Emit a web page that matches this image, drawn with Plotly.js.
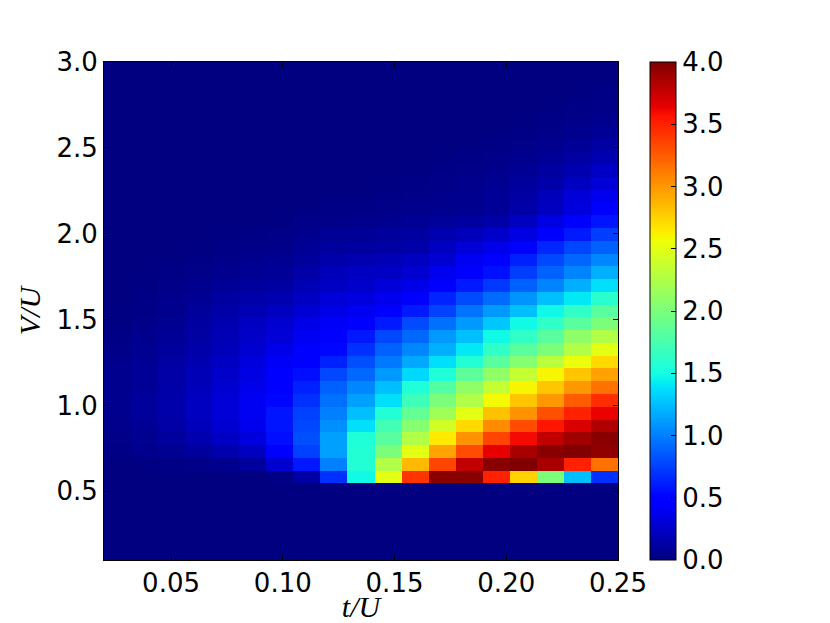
<!DOCTYPE html>
<html>
<head>
<meta charset="utf-8">
<script src="https://cdn.plot.ly/plotly-3.0.1.min.js"></script>
<style>html,body{margin:0;padding:0;background:#fff;}</style>
</head>
<body>
<div id="chart" style="width:830px;height:623px;"></div>
<script>
// cell edges along t/U (19 columns)
const tEdges = [0.02, 0.03211, 0.04421, 0.05632, 0.06842, 0.08053, 0.09263, 0.10474, 0.11684, 0.12895,
  0.14105, 0.15316, 0.16526, 0.17737, 0.18947, 0.20158, 0.21368, 0.22579, 0.23789, 0.25];
// cell edges along V/U (39 rows)
const vEdges = [0.1, 0.17436, 0.24872, 0.32308, 0.39744, 0.47179, 0.54615, 0.62051, 0.69487, 0.76923,
  0.84359, 0.91795, 0.99231, 1.06667, 1.14103, 1.21538, 1.28974, 1.36410, 1.43846, 1.51282,
  1.58718, 1.66154, 1.73590, 1.81026, 1.88462, 1.95897, 2.03333, 2.10769, 2.18205, 2.25641,
  2.33077, 2.40513, 2.47949, 2.55385, 2.62821, 2.70256, 2.77692, 2.85128, 2.92564, 3.0];
// values, bottom row (V/U ~ 0.1) first
const zGrid = [
  [0,0,0,0,0,0,0,0,0,0,0,0,0,0,0,0,0,0,0],
  [0,0,0,0,0,0,0,0,0,0,0,0,0,0,0,0,0,0,0],
  [0,0,0,0,0,0,0,0,0,0,0,0,0,0,0,0,0,0,0],
  [0,0,0,0,0,0,0,0,0,0,0,0,0,0,0,0,0,0,0],
  [0,0,0,0,0,0,0,0,0,0,0,0,0,0,0,0,0,0,0],
  [0,0,0,0,0,0,0,0,0,0,0,0,0,0,0,0,0,0,0],
  [0,0,0,0,0,0,0.02,0.12,0.69,1.48,2.5,3.42,3.97,3.97,3.5,2.75,2.0,1.25,0.69],
  [0,0.01,0.02,0.03,0.05,0.1,0.28,0.59,1.0,1.57,2.26,2.85,3.35,3.78,3.97,4.0,3.86,3.5,3.16],
  [0.02,0.04,0.06,0.1,0.16,0.22,0.45,0.75,1.13,1.57,2.0,2.5,2.95,3.32,3.64,3.86,3.97,4.0,3.94],
  [0.03,0.06,0.1,0.16,0.24,0.33,0.55,0.81,1.13,1.55,1.83,2.26,2.65,3.02,3.35,3.6,3.78,3.89,3.97],
  [0.04,0.08,0.13,0.2,0.28,0.38,0.58,0.78,1.06,1.38,1.72,2.05,2.42,2.72,3.05,3.32,3.55,3.69,3.83],
  [0.05,0.09,0.14,0.22,0.3,0.4,0.58,0.75,1.0,1.25,1.57,1.88,2.18,2.5,2.82,3.02,3.3,3.5,3.63],
  [0.05,0.09,0.15,0.22,0.3,0.4,0.52,0.69,0.94,1.13,1.38,1.7,2.0,2.26,2.58,2.8,3.0,3.25,3.45],
  [0.05,0.08,0.14,0.2,0.28,0.37,0.48,0.63,0.88,1.03,1.25,1.55,1.8,2.1,2.35,2.6,2.8,3.0,3.16],
  [0.05,0.08,0.13,0.19,0.26,0.35,0.45,0.55,0.78,0.91,1.1,1.35,1.55,1.85,2.1,2.35,2.6,2.8,2.96],
  [0.04,0.07,0.12,0.17,0.23,0.32,0.42,0.47,0.63,0.81,0.97,1.16,1.38,1.57,1.83,2.05,2.3,2.55,2.72],
  [0.03,0.06,0.1,0.15,0.2,0.28,0.36,0.45,0.52,0.69,0.88,1.03,1.19,1.41,1.63,1.83,2.0,2.26,2.5],
  [0.02,0.05,0.08,0.12,0.18,0.25,0.3,0.4,0.45,0.59,0.78,0.91,1.1,1.25,1.48,1.63,1.83,2.1,2.26],
  [0.01,0.03,0.06,0.11,0.17,0.22,0.28,0.36,0.42,0.45,0.6,0.79,0.94,1.1,1.28,1.48,1.63,1.83,2.0],
  [0.01,0.02,0.05,0.09,0.14,0.18,0.22,0.29,0.36,0.4,0.44,0.6,0.76,0.95,1.1,1.25,1.47,1.63,1.83],
  [0,0.02,0.04,0.07,0.11,0.14,0.17,0.23,0.3,0.33,0.38,0.44,0.64,0.79,0.92,1.08,1.25,1.41,1.6],
  [0,0.01,0.03,0.05,0.08,0.1,0.11,0.18,0.23,0.26,0.3,0.36,0.43,0.6,0.72,0.88,1.02,1.19,1.38],
  [0,0.01,0.02,0.03,0.05,0.07,0.085,0.13,0.2,0.22,0.24,0.28,0.38,0.43,0.56,0.74,0.89,1.02,1.19],
  [0,0,0.01,0.02,0.03,0.05,0.057,0.1,0.15,0.17,0.19,0.22,0.28,0.4,0.44,0.62,0.78,0.9,1.03],
  [0,0,0,0.01,0.02,0.03,0.03,0.08,0.1,0.11,0.12,0.15,0.23,0.3,0.37,0.44,0.65,0.77,0.88],
  [0,0,0,0,0.01,0.02,0.03,0.05,0.08,0.08,0.09,0.11,0.16,0.2,0.26,0.34,0.44,0.6,0.74],
  [0,0,0,0,0,0,0.01,0.03,0.03,0.04,0.05,0.07,0.09,0.11,0.14,0.22,0.35,0.44,0.58],
  [0,0,0,0,0,0,0,0.01,0.02,0.02,0.03,0.04,0.05,0.057,0.085,0.14,0.22,0.33,0.44],
  [0,0,0,0,0,0,0,0,0.01,0.01,0.02,0.03,0.04,0.05,0.08,0.12,0.2,0.3,0.38],
  [0,0,0,0,0,0,0,0,0,0,0.01,0.02,0.03,0.04,0.06,0.1,0.15,0.22,0.3],
  [0,0,0,0,0,0,0,0,0,0,0,0.01,0.02,0.03,0.04,0.07,0.11,0.17,0.24],
  [0,0,0,0,0,0,0,0,0,0,0,0,0.01,0.02,0.03,0.05,0.08,0.12,0.17],
  [0,0,0,0,0,0,0,0,0,0,0,0,0,0.01,0.02,0.03,0.05,0.08,0.12],
  [0,0,0,0,0,0,0,0,0,0,0,0,0,0,0.01,0.02,0.03,0.05,0.08],
  [0,0,0,0,0,0,0,0,0,0,0,0,0,0,0,0.01,0.02,0.03,0.05],
  [0,0,0,0,0,0,0,0,0,0,0,0,0,0,0,0,0.01,0.02,0.03],
  [0,0,0,0,0,0,0,0,0,0,0,0,0,0,0,0,0,0.01,0.02],
  [0,0,0,0,0,0,0,0,0,0,0,0,0,0,0,0,0,0,0.01],
  [0,0,0,0,0,0,0,0,0,0,0,0,0,0,0,0,0,0,0]
];
const xTicks = [0.05, 0.10, 0.15, 0.20, 0.25];
const yTicks = [0.5, 1.0, 1.5, 2.0, 2.5, 3.0];
const cTicks = [0.0, 0.5, 1.0, 1.5, 2.0, 2.5, 3.0, 3.5, 4.0];

// matplotlib "jet"
const jet = [
  [0.0, 'rgb(0,0,128)'], [0.11, 'rgb(0,0,255)'], [0.125, 'rgb(0,0,255)'],
  [0.34, 'rgb(0,219,255)'], [0.35, 'rgb(0,230,247)'], [0.375, 'rgb(21,255,226)'],
  [0.64, 'rgb(238,255,8)'], [0.65, 'rgb(247,245,0)'], [0.66, 'rgb(255,236,0)'],
  [0.89, 'rgb(255,19,0)'], [0.91, 'rgb(232,0,0)'], [1.0, 'rgb(128,0,0)']
];

const tickFont = {family: 'DejaVu Sans', size: 26, color: '#000'};

const trace = {
  type: 'heatmap', x: tEdges, y: vEdges, z: zGrid,
  zmin: 0, zmax: 4, colorscale: jet, zsmooth: false, hoverinfo: 'skip',
  colorbar: {
    x: 1.0623, xanchor: 'left', xpad: 0, y: 1, yanchor: 'top', ypad: 0,
    len: 498, lenmode: 'pixels', thickness: 26, thicknessmode: 'pixels',
    outlinewidth: 1, outlinecolor: '#000',
    tickmode: 'array', tickvals: cTicks, ticktext: cTicks.map(v => v.toFixed(1)),
    ticks: 'inside', ticklen: 5, tickwidth: 1, tickcolor: '#000',
    tickfont: tickFont
  }
};

const axisCommon = {
  showgrid: false, zeroline: false, showline: true, linecolor: '#000', linewidth: 1,
  mirror: 'allticks', ticks: 'inside', ticklen: 5, tickwidth: 1, tickcolor: '#000',
  tickfont: tickFont, automargin: false
};

const layout = {
  width: 830, height: 623,
  margin: {l: 104, r: 212, t: 62, b: 63, pad: 0},
  paper_bgcolor: '#fff', plot_bgcolor: '#fff',
  font: {family: 'DejaVu Sans', size: 26, color: '#000'},
  xaxis: Object.assign({}, axisCommon, {
    range: [0.02, 0.25], tickmode: 'array', tickvals: xTicks,
    ticktext: xTicks.map(v => v.toFixed(2)),
    title: {text: '<i>t/U</i>', font: {family: 'Liberation Serif', size: 30, color: '#000'}, standoff: 4}
  }),
  yaxis: Object.assign({}, axisCommon, {
    range: [0.1, 3.0], tickmode: 'array', tickvals: yTicks,
    ticktext: yTicks.map(v => v.toFixed(1)),
    title: {text: '<i>V/U</i>', font: {family: 'Liberation Serif', size: 30, color: '#000'}, standoff: 6}
  })
};

Plotly.newPlot('chart', [trace], layout, {displayModeBar: false, staticPlot: true});
</script>
</body>
</html>
